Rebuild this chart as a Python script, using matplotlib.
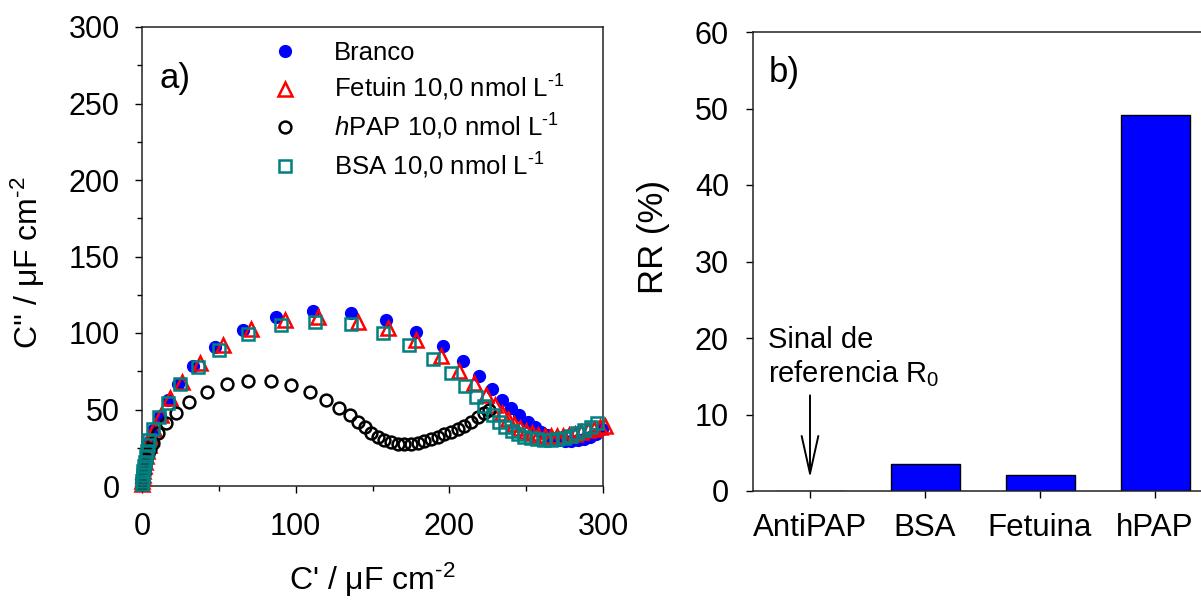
import numpy as np
import matplotlib
matplotlib.use("Agg")
import matplotlib.pyplot as plt

plt.rcParams["font.family"] = ["Liberation Sans", "DejaVu Sans"]
plt.rcParams["mathtext.fontset"] = "custom"
plt.rcParams["mathtext.rm"] = "Liberation Sans"
plt.rcParams["mathtext.it"] = "Liberation Sans:italic"

# panel a) - capacitance plots (C' vs C'')
branco_x = [0.1, 0.2, 0.4, 0.6, 0.9, 1.3, 1.8, 2.4, 3.2, 4.2, 5.6, 7.4, 11.7, 17.1, 23.6, 33.3,
            47.4, 65.8, 87.5, 111.2, 136.2, 158.9, 178.4, 195.7, 208.6, 219.5, 227.7, 234.2,
            240.0, 245.5, 250.9, 255.5, 259.5, 263.5, 267.5, 271.5, 275.5, 279.5, 283.5,
            287.5, 291.5, 295.5, 299.5]
branco_y = [1, 3, 5, 7.5, 10, 13, 16, 19.5, 23, 27, 31, 36.6, 45.8, 56.2, 66.4, 78.4,
            91.0, 102.0, 110.2, 114.6, 113.3, 108.5, 100.9, 91.7, 81.7, 72.2, 63.5, 56.4,
            50.8, 46.4, 42.0, 38.5, 35.5, 33.2, 31.5, 30.3, 29.6, 29.4, 29.8,
            30.8, 32.3, 34.3, 37.0]

fetuin_x = [0.1, 0.2, 0.4, 0.6, 0.9, 1.3, 1.8, 2.4, 3.2, 4.3, 5.8, 7.8, 12.2, 18.2, 25.8, 37.7,
            52.4, 71.2, 92.9, 114.5, 140.5, 160.0, 178.4, 194.6, 206.5, 216.2, 223.8, 229.5,
            234.0, 238.0, 242.0, 246.0, 250.0, 254.0, 258.0, 262.0, 266.0, 270.0, 274.0,
            278.0, 282.0, 286.0, 290.0, 294.0, 298.0, 301.0]
fetuin_y = [1, 3, 5, 7.5, 10, 13, 16, 19.5, 23, 27, 31.5, 37.0, 46.5, 57.3, 68.2, 80.2,
            92.2, 102.4, 108.5, 110.5, 107.4, 103.0, 95.4, 85.0, 75.4, 67.1, 59.5, 53.0,
            48.0, 44.0, 40.5, 38.0, 36.0, 34.5, 33.5, 33.0, 32.7, 32.7, 33.0,
            33.5, 34.3, 35.3, 36.3, 37.3, 38.3, 39.0]

hpap_x = [0.1, 0.3, 0.6, 1.0, 1.5, 2.1, 2.9, 3.8, 5.0, 6.9, 10.6, 15.6, 22.1, 30.7, 42.0, 55.0,
          69.0, 84.2, 97.2, 109.1, 119.7, 128.1, 135.1, 140.5, 144.8, 149.2, 153.5, 157.8,
          162.1, 166.4, 170.8, 175.1, 179.4, 183.7, 188.1, 192.4, 196.8, 201.1, 205.4,
          209.7, 214.0, 218.4, 222.7, 226.0]
hpap_y = [1, 3, 5.5, 8, 11, 14, 17.5, 21, 24.5, 27.9, 34.4, 41.0, 47.9, 55.1, 61.6, 66.7,
          68.8, 68.8, 66.0, 61.6, 56.2, 51.2, 46.4, 42.0, 38.4, 34.9, 32.2, 30.1,
          28.6, 27.5, 27.2, 27.5, 28.3, 29.6, 30.7, 32.2, 33.8, 35.5, 37.3,
          39.4, 42.0, 44.9, 47.5, 50.0]

bsa_x = [0.1, 0.2, 0.4, 0.6, 0.9, 1.3, 1.8, 2.4, 3.2, 4.0, 4.8, 7.3, 11.2, 17.1, 24.7, 36.2,
         50.2, 69.0, 90.7, 112.3, 136.2, 156.7, 174.0, 189.2, 201.1, 210.4, 217.3, 222.7,
         228.1, 232.5, 236.5, 240.5, 244.5, 248.7, 253.0, 257.3, 261.7, 266.0, 270.3,
         274.7, 279.0, 283.3, 287.7, 292.0, 296.3]
bsa_y = [1, 3, 5, 7.5, 10, 13, 16, 19.5, 23, 26.5, 30, 37.0, 45.3, 54.4, 66.4, 78.0,
         88.9, 99.1, 105.2, 107.4, 105.7, 100.2, 92.2, 83.0, 73.7, 65.4, 58.4, 52.3,
         46.4, 42.0, 38.8, 36.2, 34.0, 32.2, 31.2, 30.5, 30.0, 30.0, 30.5,
         31.6, 32.7, 34.4, 36.6, 38.8, 41.0]

# panel b) - relative response
categories = ["AntiPAP", "BSA", "Fetuina", "hPAP"]
rr_values = [0.0, 3.5, 2.1, 49.2]

fig = plt.figure(figsize=(12.01, 6.05), dpi=100)
ax1 = fig.add_axes([142 / 1201, 119 / 605, 461 / 1201, 459 / 605])
ax2 = fig.add_axes([752.5 / 1201, 114 / 605, 460 / 1201, 459 / 605])

sup1 = "$^{\\text{-1}}$"
ax1.plot(branco_x, branco_y, "o", color="#0000ff", ms=8.5, mec="#0000ff",
         label="Branco", clip_on=False, zorder=3)
ax1.plot(fetuin_x, fetuin_y, "^", color="#ff0000", mfc="none", ms=9.5, mew=1.8,
         label="Fetuin 10,0 nmol L" + sup1, clip_on=False, zorder=3)
ax1.plot(hpap_x, hpap_y, "o", color="black", mfc="none", ms=8.5, mew=1.8,
         label="$\\it{h}$PAP 10,0 nmol L" + sup1, clip_on=False, zorder=3)
ax1.plot(bsa_x, bsa_y, "s", color="#008080", mfc="none", ms=8, mew=1.8,
         label="BSA 10,0 nmol L" + sup1, clip_on=False, zorder=3)

ax1.set_xlim(0, 300)
ax1.set_ylim(0, 300)
ax1.set_xticks([0, 100, 200, 300])
ax1.set_xticks([50, 150, 250], minor=True)
ax1.set_yticks(np.arange(0, 301, 50))
ax1.set_yticks(np.arange(25, 300, 50), minor=True)
ax1.set_xlabel("C' / \u03bcF cm$^{\\text{-2}}$", fontsize=23)
ax1.set_ylabel("C'' / \u03bcF cm$^{\\text{-2}}$", fontsize=23)
ax1.xaxis.set_label_coords(0.5, -0.163)
ax1.yaxis.set_label_coords(-0.205, 0.486)
ax1.text(0.037, 0.868, "a)", transform=ax1.transAxes, fontsize=25)

leg = ax1.legend(loc="upper left", bbox_to_anchor=(0.282, 0.97), frameon=False,
                 fontsize=18.5, handlelength=1.0, handletextpad=1.4,
                 labelspacing=0.33, borderpad=0, borderaxespad=0)

ax2.bar(range(len(categories)), rr_values, width=0.6, color="#0000ff",
        edgecolor="black", linewidth=1)
ax2.set_xlim(-0.5, 3.5)
ax2.set_ylim(0, 60)
ax2.set_xticks(range(len(categories)))
ax2.set_xticklabels(categories)
ax2.set_yticks(np.arange(0, 61, 10))
ax2.set_ylabel("RR (%)", fontsize=25)
ax2.yaxis.set_label_coords(-0.18, 0.553)
ax2.text(0.035, 0.89, "b)", transform=ax2.transAxes, fontsize=25)
ax2.text(-0.365, 21.6, "Sinal de\nreferencia R$_0$", fontsize=21, va="top",
         linespacing=1.2)
ax2.annotate("", xy=(0, 1.7), xytext=(0, 12.5),
             arrowprops=dict(arrowstyle="->,head_length=2.7,head_width=0.6",
                             color="black", lw=1.4, shrinkA=0, shrinkB=0))

for ax in (ax1, ax2):
    for sp in ax.spines.values():
        sp.set_linewidth(1.1)
        sp.set_color("#222222")
    ax.tick_params(which="major", direction="out", length=5, width=1,
                   labelsize=22, top=False, right=False)
    ax.tick_params(which="minor", direction="out", length=3.5, width=1,
                   top=False, right=False)

ax1.tick_params(axis="x", which="major", pad=14)
ax1.tick_params(axis="y", which="major", pad=11)
ax2.tick_params(axis="x", which="major", pad=11, labelsize=22.5)
ax2.tick_params(axis="y", which="major", pad=12)

fig.savefig("out.png", dpi=100)
